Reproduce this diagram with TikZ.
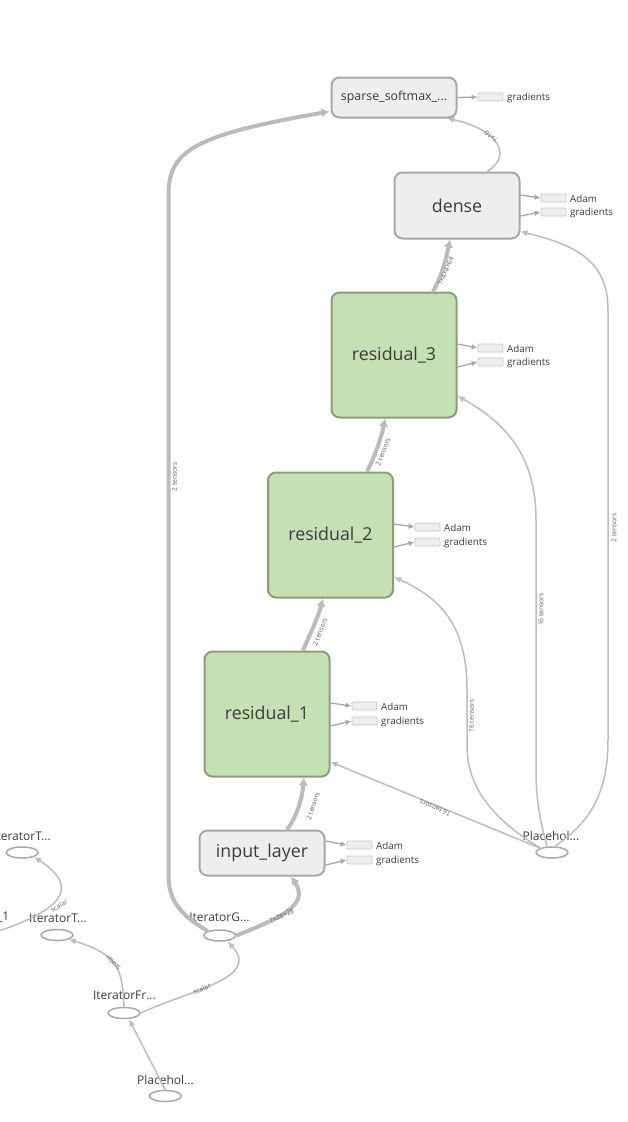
\documentclass[tikz,border=0pt]{standalone}
\usepackage{fontspec}
\setmainfont{Open Sans}
\usetikzlibrary{shapes.geometric,arrows.meta}
\definecolor{gboxfill}{HTML}{EEEEEE}
\definecolor{gboxline}{HTML}{A8A8A8}
\definecolor{grfill}{HTML}{C5E0B4}
\definecolor{grline}{HTML}{8A9F78}
\definecolor{edgec}{HTML}{BDBDBD}
\definecolor{thickc}{HTML}{BBBBBB}
\definecolor{txtc}{HTML}{3C3C3C}
\definecolor{lblc}{HTML}{606060}
\definecolor{auxline}{HTML}{B0B0B0}
\begin{document}
\begin{tikzpicture}[x=1pt,y=-1pt,
  graybox/.style={draw=gboxline, fill=gboxfill, line width=2pt, rounded corners=8pt,
    minimum width=125pt, inner sep=0pt, text=txtc, font=\fontsize{17.8}{20}\selectfont},
  greenbox/.style={draw=grline, fill=grfill, line width=2pt, rounded corners=8pt,
    minimum width=125pt, minimum height=125pt, inner sep=0pt, text=txtc, font=\fontsize{17.8}{20}\selectfont},
  opell/.style={ellipse, draw=gboxline, line width=1.5pt, fill=white, minimum width=32pt, minimum height=11pt, inner sep=0pt},
  oplbl/.style={text=txtc, inner sep=0pt, font=\fontsize{12}{14}\selectfont},
  auxbox/.style={draw=auxline, dash pattern=on 1.2pt off 0.8pt, fill=gboxfill, line width=0.7pt,
    rounded corners=1pt, minimum width=25pt, minimum height=8pt, inner sep=0pt},
  auxtxt/.style={text=txtc, anchor=west, inner sep=0pt, font=\fontsize{9.8}{11}\selectfont},
  elbl/.style={text=lblc, inner sep=0pt, font=\fontsize{6.7}{7}\selectfont},
  thinedge/.style={draw=edgec, line width=1.5pt, -{Latex[length=7pt,width=6.5pt]}},
  thickedge/.style={draw=thickc, line width=4pt, -{Latex[length=8pt,width=9.5pt]}},
  auxedge/.style={draw=gboxline, line width=1.3pt, -{Latex[length=6pt,width=5.5pt]}}
]
\useasboundingbox[fill=white] (0,0) rectangle (628,1122);

% ---- main boxes ----
\node[graybox, minimum height=40pt, font=\fontsize{12.4}{14}\selectfont] (sp) at (394,97.5) {sparse\_softmax\_...};
\node[graybox, minimum height=66pt] (dense) at (457,205.5) {dense};
\node[greenbox] (r3) at (394,355) {residual\_3};
\node[greenbox] (r2) at (330.5,535) {residual\_2};
\node[greenbox] (r1) at (267,714) {residual\_1};
\node[graybox, minimum height=45pt] (inl) at (262,853) {input\_layer};

% ---- auxiliary (dashed) boxes ----
\node[auxbox] (spg) at (490.5,97) {};
\node[auxtxt] (spgt) at (507,97.5) {gradients};
\node[auxbox] (dna) at (553.5,198) {};
\node[auxtxt] (dnat) at (570,198.5) {Adam};
\node[auxbox] (dng) at (553.5,212) {};
\node[auxtxt] (dngt) at (570,212.5) {gradients};
\node[auxbox] (r3a) at (490.5,348) {};
\node[auxtxt] (r3at) at (507,348.5) {Adam};
\node[auxbox] (r3g) at (490.5,362) {};
\node[auxtxt] (r3gt) at (507,362.5) {gradients};
\node[auxbox] (r2a) at (427.5,527) {};
\node[auxtxt] (r2at) at (444,527.5) {Adam};
\node[auxbox] (r2g) at (427.5,542) {};
\node[auxtxt] (r2gt) at (444,542.5) {gradients};
\node[auxbox] (r1a) at (364.5,706) {};
\node[auxtxt] (r1at) at (381,706.5) {Adam};
\node[auxbox] (r1g) at (364.5,721) {};
\node[auxtxt] (r1gt) at (381,721.5) {gradients};
\node[auxbox] (ina) at (359.5,845) {};
\node[auxtxt] (inat) at (376,845.5) {Adam};
\node[auxbox] (ing) at (359.5,860) {};
\node[auxtxt] (ingt) at (376,860.5) {gradients};

\draw[auxedge] (sp.east) -- (spg.west);
\draw[auxedge] ([yshift=10.5pt]dense.east) -- (dna.west);
\draw[auxedge] ([yshift=-10.5pt]dense.east) -- (dng.west);
\draw[auxedge] ([yshift=11pt]r3.east) -- (r3a.west);
\draw[auxedge] ([yshift=-12pt]r3.east) -- (r3g.west);
\draw[auxedge] ([yshift=11pt]r2.east) -- (r2a.west);
\draw[auxedge] ([yshift=-12pt]r2.east) -- (r2g.west);
\draw[auxedge] ([yshift=11pt]r1.east) -- (r1a.west);
\draw[auxedge] ([yshift=-12pt]r1.east) -- (r1g.west);
\draw[auxedge] ([yshift=12pt]inl.east) -- (ina.west);
\draw[auxedge] ([yshift=-12pt]inl.east) -- (ing.west);

% ---- op ellipses ----
\node[opell] (ph1) at (552,852.5) {};
\node[oplbl] (ph1l) at (551,836) {Placehol...};
\node[opell] (itg) at (219.7,935.5) {};
\node[oplbl] (itgl) at (219.5,917.5) {IteratorG...};
\node[opell] (itfr) at (124,1013) {};
\node[oplbl] (itfrl) at (124.5,995.5) {IteratorFr...};
\node[opell] (ph2) at (165.3,1096) {};
\node[oplbl] (ph2l) at (165.5,1080) {Placehol...};
\node[opell] (itt2) at (57,935) {};
\node[oplbl] (itt2l) at (58,918) {IteratorT...};
\node[opell] (itt1) at (22.2,852.5) {};
\node[oplbl] (itt1l) at (22,836) {IteratorT...};
\node[oplbl, anchor=east] (one) at (9.5,917.5) {\_1};
\coordinate (offl) at (-4,932);

% ---- thick edges ----
\draw[thickedge] ([xshift=25pt]inl.north) .. controls (296,818) and (302,800) .. ([xshift=37pt]r1.south);
\node[elbl, rotate=72] (e1) at (313,806) {2 tensors};
\draw[thickedge] ([xshift=36pt]r1.north) .. controls (309,636) and (318,618) .. ([xshift=-7.5pt]r2.south);
\node[elbl, rotate=68] (e2) at (320,632) {2 tensors};
\draw[thickedge] ([xshift=36.5pt]r2.north) .. controls (373,460) and (381,440) .. ([xshift=-9pt]r3.south);
\node[elbl, rotate=68] (e3) at (383,452) {2 tensors};
\draw[thickedge] ([xshift=39pt]r3.north) .. controls (440,280) and (446,260) .. ([xshift=-7pt]dense.south);
\node[elbl, rotate=68] (e4) at (446,271) {?×4×4×64};
\draw[thickedge] (itg.east) .. controls (280,918) and (310,905) .. ([xshift=29pt]inl.south);
\node[elbl, rotate=26] (e6) at (282,916) {?×28×28};
\draw[thickedge] (itg.north west) .. controls (180,915) and (168.5,900) .. (168.5,875) -- (168.5,195)
   .. controls (168.5,150) and (195,135) .. ([yshift=-14pt,xshift=-1pt]sp.west);
\node[elbl, rotate=90] (e7) at (174.5,477) {2 tensors};

% ---- thin edges ----
\draw[thinedge] ([xshift=30pt]dense.north) .. controls (515,155) and (495,128) .. ([xshift=53pt]sp.south);
\node[elbl, rotate=145] (e5) at (491,136) {?×10};
\draw[thinedge] (itfr.east) .. controls (190,990) and (262,978) .. ([xshift=8pt]itg.south);
\node[elbl, rotate=22] (e8) at (202,989) {scalar};
\draw[thinedge] (itfr.north) .. controls (122,970) and (120,955) .. (itt2.south east);
\node[elbl, rotate=133] (e9) at (113,963) {scalar};
\draw[thinedge] (ph2.north) -- ([xshift=5pt]itfr.south);
\draw[thinedge] (offl) .. controls (55,912) and (85,890) .. (itt1.south east);
\node[elbl, rotate=30] (e11) at (59,906) {scalar};
\draw[thinedge] (ph1.160) -- ([yshift=-48pt]r1.east);
\node[elbl, rotate=157] (e12) at (435,808) {16 tensors};
\draw[thinedge] (ph1.north west) .. controls (495,820) and (467,790) .. (467,745) -- (467,690)
   .. controls (467,630) and (445,600) .. ([yshift=-42pt]r2.east);
\node[elbl, rotate=90] (e13) at (471.5,716) {16 tensors};
\draw[thinedge] ([xshift=-5pt]ph1.north) .. controls (540,820) and (536,800) .. (536,770) -- (536,520)
   .. controls (536,460) and (510,425) .. ([yshift=-41pt]r3.east);
\node[elbl, rotate=90] (e14) at (541,609.5) {16 tensors};
\draw[thinedge] ([xshift=3pt]ph1.north) .. controls (585,825) and (608,800) .. (608,740) -- (608,310)
   .. controls (608,260) and (575,245) .. ([yshift=-26pt]dense.east);
\node[elbl, rotate=90] (e15) at (614,528) {2 tensors};
\end{tikzpicture}
\end{document}
